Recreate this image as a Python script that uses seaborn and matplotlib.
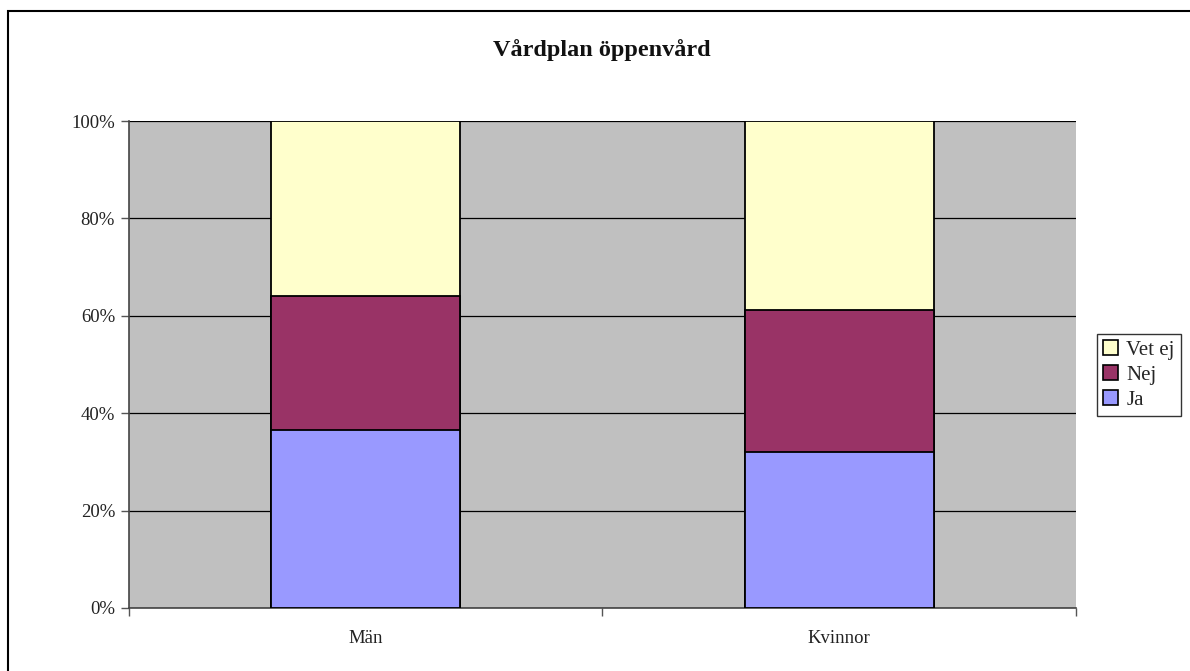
import matplotlib
matplotlib.use("Agg")
import matplotlib.pyplot as plt
from matplotlib.patches import Rectangle, Patch
from matplotlib.ticker import FixedLocator, PercentFormatter
import pandas as pd
import seaborn as sns

groups = ["Män", "Kvinnor"]
ja = [36.6, 32.0]
nej = [27.5, 29.1]
vet_ej = [35.9, 38.9]
series_names = ["Ja", "Nej", "Vet ej"]
series_colors = ["#9999FF", "#993366", "#FFFFCC"]
title = "Vårdplan öppenvård"

sns.set_theme(style="white")
plt.rcParams["font.family"] = ["Liberation Serif", "DejaVu Serif"]

df = pd.DataFrame({"grupp": groups, "Ja": ja, "Nej": nej, "Vet ej": vet_ej})
df["c_ja"] = df["Ja"]
df["c_nej"] = df["Ja"] + df["Nej"]
df["c_vet"] = df["c_nej"] + df["Vet ej"]

fig = plt.figure(figsize=(11.90, 6.71), dpi=100)
ax = fig.add_axes([129 / 1190, 1 - 608 / 671, (1076 - 129) / 1190, (608 - 121) / 671])
ax.set_facecolor("#C0C0C0")

# stacked bars: draw cumulative totals from the top segment down
for col, color in zip(["c_vet", "c_nej", "c_ja"], series_colors[::-1]):
    sns.barplot(data=df, x="grupp", y=col, color=color, width=0.4,
                edgecolor="black", linewidth=1.3, saturation=1, ax=ax, zorder=3)

ax.set_ylim(0, 100)
ax.set_xlim(-0.5, 1.5)
ax.yaxis.set_major_locator(FixedLocator([0, 20, 40, 60, 80, 100]))
ax.yaxis.set_major_formatter(PercentFormatter(decimals=0))
ax.grid(axis="y", color="black", linewidth=0.9, zorder=1)
ax.set_axisbelow(True)

ax.set_xticks([-0.5, 0.5, 1.5])
ax.set_xticklabels([])
ax.set_xticks([0, 1], minor=True)
ax.set_xticklabels(groups, minor=True)
ax.tick_params(axis="x", which="major", length=6, width=1, color="#555555", direction="out", bottom=True)
ax.tick_params(axis="x", which="minor", length=0, pad=16, labelsize=13.5, labelcolor="#222222")
ax.tick_params(axis="y", length=6, width=1, color="#555555", direction="out", left=True, pad=4,
               labelsize=13.5, labelcolor="#222222")
ax.set_xlabel("")
ax.set_ylabel("")

for side in ["top", "right"]:
    ax.spines[side].set_visible(False)
for side in ["left", "bottom"]:
    ax.spines[side].set_color("#444444")
    ax.spines[side].set_linewidth(1.2)

fig.text(602 / 1190, 1 - 50 / 671, title, ha="center", va="center",
         fontsize=17.5, fontweight="bold", color="#111111")

handles = [Patch(facecolor=c, edgecolor="black", linewidth=1.2, label=n)
           for n, c in zip(series_names, series_colors)][::-1]
leg = fig.legend(handles=handles, loc="center left",
                 bbox_to_anchor=(1097 / 1190, 1 - 375 / 671),
                 frameon=True, fancybox=False, fontsize=15,
                 handlelength=0.7, handleheight=0.7, handletextpad=0.4,
                 labelspacing=0.25, borderpad=0.3, borderaxespad=0)
leg.get_frame().set_edgecolor("black")
leg.get_frame().set_linewidth(1.0)

# chart frame: only the left and top edges fall inside the canvas
fig.patches.append(Rectangle((8 / 1190, -10 / 671), 1200 / 1190, 670 / 671,
                             transform=fig.transFigure, fill=False,
                             edgecolor="black", linewidth=1.5))

fig.savefig("out.png", dpi=100, facecolor="white")
